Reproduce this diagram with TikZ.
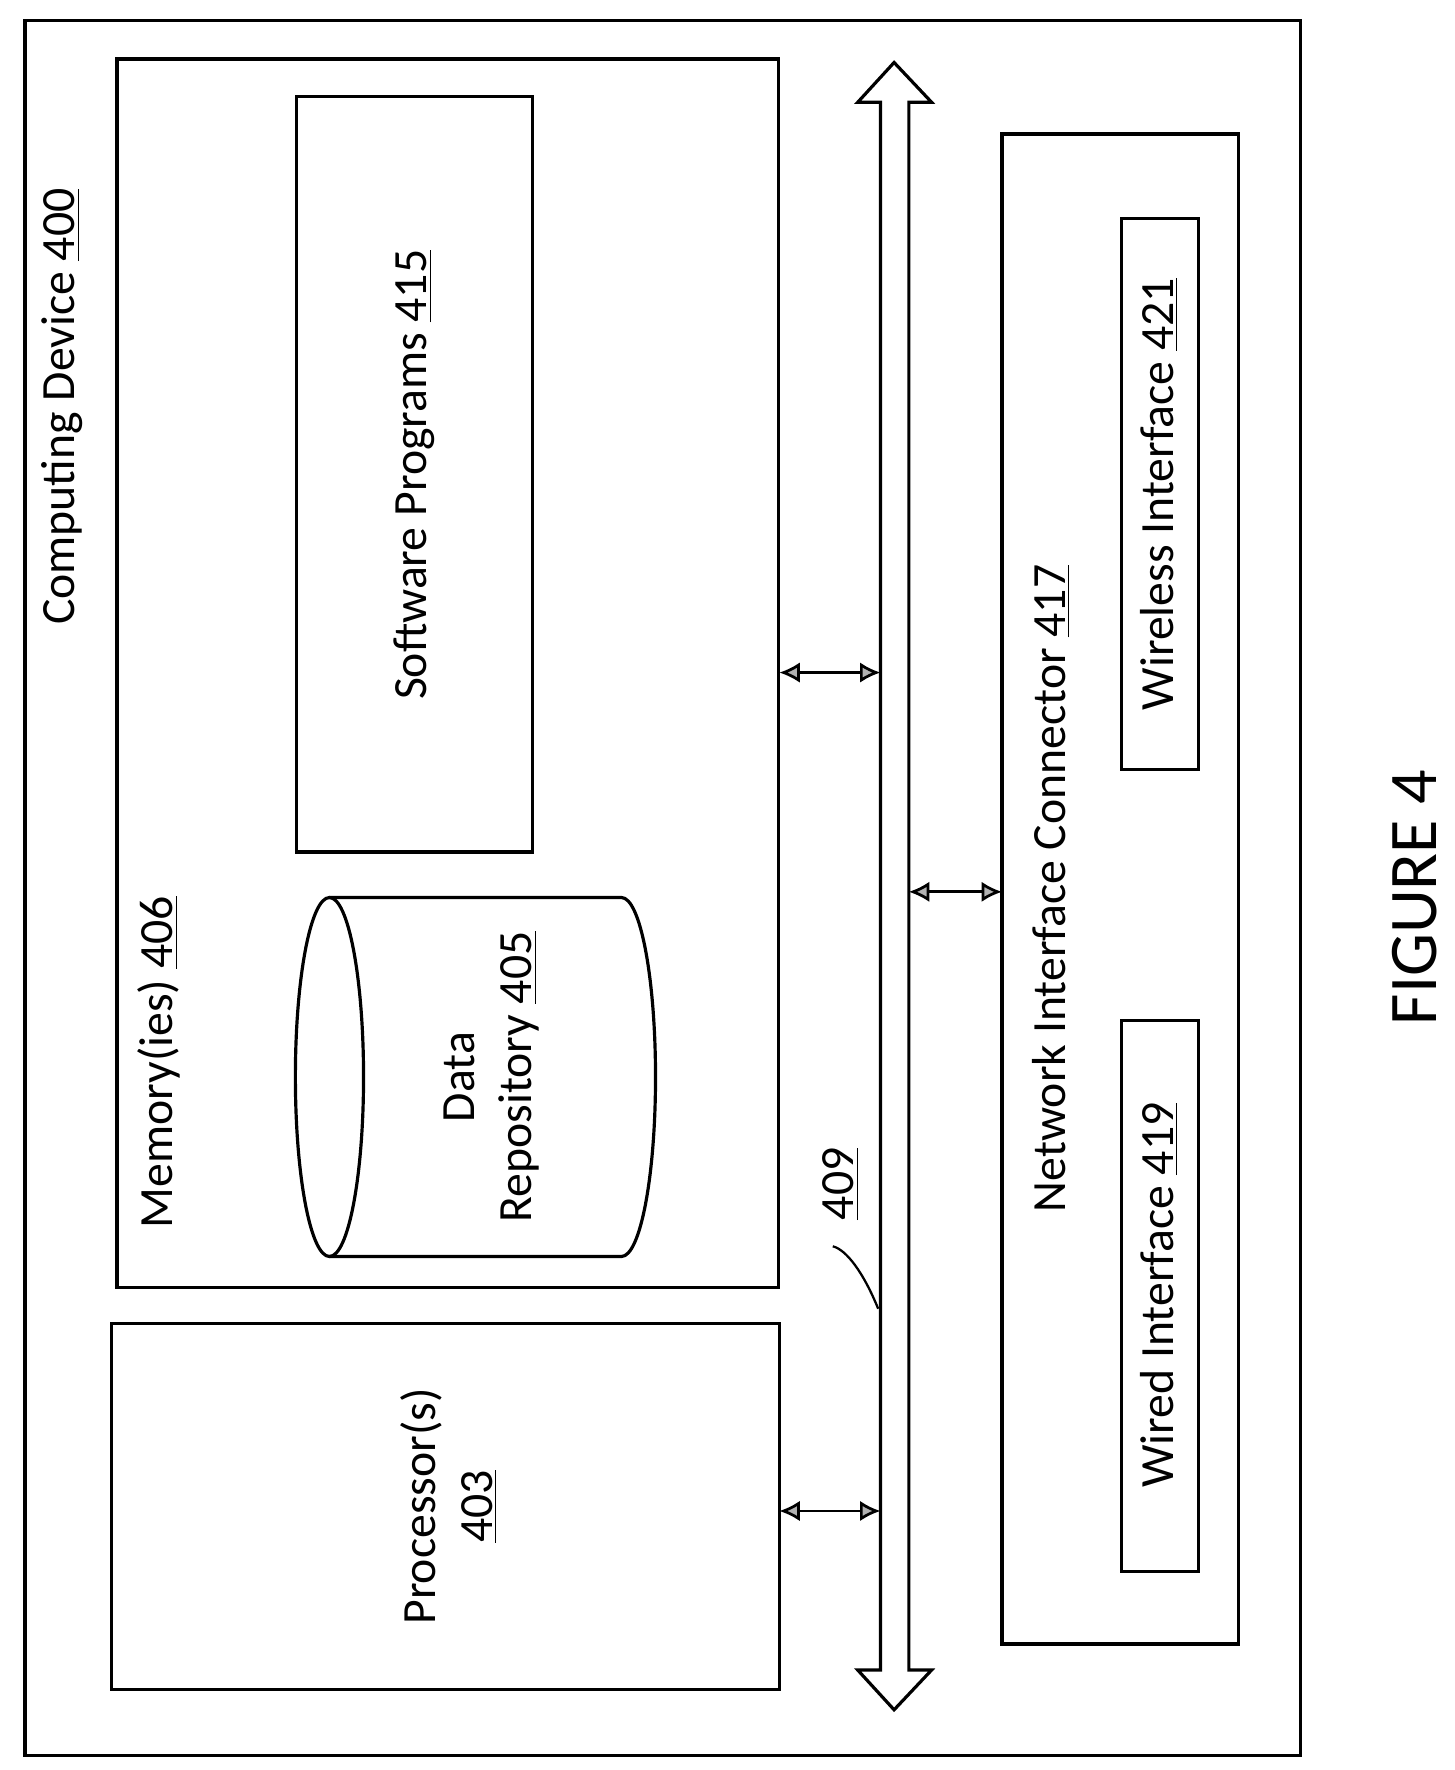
\documentclass[tikz,border=0pt]{standalone}
\usepackage{fontspec}
\setmainfont{Carlito}
\usetikzlibrary{arrows.meta, positioning, calc}
\tikzset{
  box/.style={draw, line width=1.4pt, inner sep=0},
  lbl/.style={rotate=90, font=\fontsize{21}{25}\selectfont, align=center},
  link/.style={line width=1.2pt, {Latex[length=9pt,width=9pt,fill=gray!60]}-{Latex[length=9pt,width=9pt,fill=gray!60]}},
}
\begin{document}
\begin{tikzpicture}[x=0.5pt, y=-0.5pt]
\useasboundingbox (0,0) rectangle (1280,1558);

% Boxes
\draw [box] (22,18) rectangle (1145,1545);
\draw [box] (103,52) rectangle (685,1133);
\draw [box] (261,85) rectangle (469,750);
\draw [box] (98,1165) rectangle (686,1487);
\draw [box] (882,118) rectangle (1090,1447);
\draw [box] (987,192) rectangle (1055,677);
\draw [box] (987,898) rectangle (1055,1383);

% Data repository
\draw [line width=1.4pt] (290,948) ellipse [x radius=30, y radius=158];
\draw [line width=1.4pt] (290,790) -- (547,790) arc [start angle=-90, end angle=90, x radius=30, y radius=158] -- (290,1106);

% Bus
\draw [line width=1.4pt] (787,55) -- (820,90) -- (800,90) -- (800,1470) -- (820,1470) -- (787,1505)
  -- (755,1470) -- (775,1470) -- (775,90) -- (755,90) -- cycle;
\draw [link] (686,592) -- (775,592);
\draw [link] (800,785) -- (882,785);
\draw [link] (686,1330) -- (775,1330);
\draw [line width=1pt] (773,1152) .. controls (760,1120) and (745,1100) .. (733,1097);

% Labels
\node [lbl] (dev) at (55,358) {Computing Device \underline{400}};
\node [lbl] (mem) at (140,935) {Memory(ies) \underline{406}};
\node [lbl] (sw) at (365,418) {Software Programs \underline{415}};
\node [lbl] (repo) at (433,948) {Data\\Repository \underline{405}};
\node [lbl] (proc) at (395,1326) {Processor(s)\\\underline{403}};
\node [lbl] (bus) at (740,1042) {\underline{409}};
\node [lbl] (nic) at (925,782) {Network Interface Connector \underline{417}};
\node [lbl] (wl) at (1020,435) {Wireless Interface \underline{421}};
\node [lbl] (wd) at (1020,1140) {Wired Interface \underline{419}};
\node [rotate=90, font=\fontsize{30}{34}\selectfont] (fig) at (1245,790) {FIGURE 4};
\end{tikzpicture}
\end{document}
